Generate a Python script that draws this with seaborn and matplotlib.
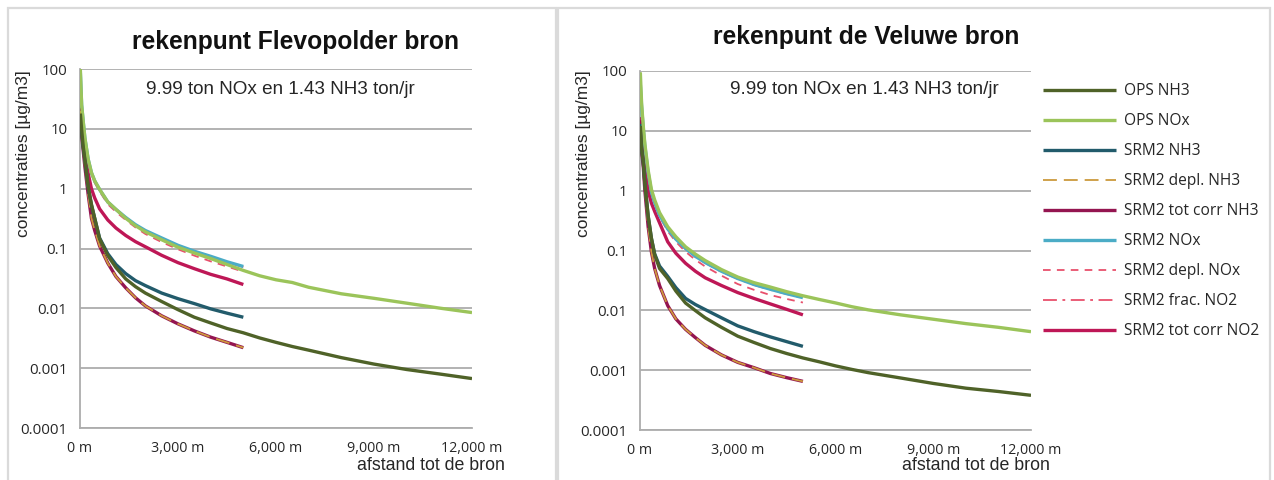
import matplotlib
matplotlib.use("Agg")
import matplotlib.pyplot as plt
import seaborn as sns
from matplotlib.patches import Rectangle
from matplotlib.ticker import FixedLocator, MultipleLocator, NullLocator, FixedFormatter

sns.set_theme(style="white")
plt.rcParams["font.family"] = ["Liberation Sans", "DejaVu Sans"]
plt.rcParams["lines.scale_dashes"] = False
plt.rcParams["lines.solid_capstyle"] = "butt"

# ---------------------------------------------------------------- data
# distance from the source [m]
dist_srm2 = [10, 50, 100, 150, 250, 350, 450, 600, 850, 1100, 1400, 1700,
             2000, 2500, 3000, 3500, 4000, 4500, 5000]
dist_ops = dist_srm2 + [5500, 6000, 6500, 7000, 8000, 9000, 10000, 11000, 12000]

series_names = ["OPS NH3", "OPS NOx", "SRM2 NH3", "SRM2 depl. NH3",
                "SRM2 tot corr NH3", "SRM2 NOx", "SRM2 depl. NOx",
                "SRM2 frac. NO2", "SRM2 tot corr NO2"]

panel_titles = ["rekenpunt Flevopolder bron", "rekenpunt de Veluwe bron"]
emission_note = "9.99 ton NOx en 1.43 NH3 ton/jr"
y_label = "concentraties [µg/m3]"
x_label = "afstand tot de bron"
y_ticks = [0.0001, 0.001, 0.01, 0.1, 1, 10, 100]
y_tick_labels = ["0.0001", "0.001", "0.01", "0.1", "1", "10", "100"]
x_ticks = [0, 3000, 6000, 9000, 12000]
x_tick_labels = ["0 m", "3,000 m", "6,000 m", "9,000 m", "12,000 m"]

# Flevopolder source, concentrations [µg/m3]
flevo_ops_nh3 = [18, 9.7, 5.0, 3.1, 1.1, 0.55, 0.32, 0.145, 0.076, 0.048, 0.031,
                 0.023, 0.018, 0.013, 0.0095, 0.0071, 0.0057, 0.0046, 0.0039,
                 0.0032, 0.0027, 0.0023, 0.0020, 0.0015, 0.00117, 0.00095,
                 0.0008, 0.00067]
flevo_ops_nox = [100, 25, 13, 7.0, 3.1, 1.85, 1.35, 0.97, 0.6, 0.45, 0.32, 0.24,
                 0.19, 0.14, 0.105, 0.084, 0.068, 0.054, 0.043, 0.035, 0.030,
                 0.027, 0.0225, 0.0175, 0.0147, 0.0122, 0.0101, 0.0085]
flevo_srm2_nh3 = [15, 9.0, 4.8, 3.0, 1.05, 0.53, 0.32, 0.15, 0.082, 0.054, 0.038,
                  0.029, 0.024, 0.018, 0.0145, 0.012, 0.0098, 0.0083, 0.0071]
flevo_srm2_depl_nh3 = [20, 8.0, 4.2, 2.3, 0.8, 0.32, 0.2, 0.11, 0.057, 0.034,
                       0.022, 0.015, 0.011, 0.0075, 0.0055, 0.0042, 0.0033,
                       0.0027, 0.0022]
flevo_srm2_tot_nh3 = [22, 8.0, 4.2, 2.3, 0.8, 0.32, 0.2, 0.11, 0.057, 0.034,
                      0.022, 0.015, 0.011, 0.0075, 0.0055, 0.0042, 0.0033,
                      0.0027, 0.0022]
flevo_srm2_nox = [90, 25, 13, 7.0, 3.1, 1.85, 1.35, 0.97, 0.6, 0.45, 0.33, 0.25,
                  0.2, 0.15, 0.113, 0.09, 0.074, 0.06, 0.05]
flevo_srm2_depl_nox = [90, 24, 12.5, 6.8, 3.0, 1.75, 1.25, 0.9, 0.55, 0.41, 0.3,
                       0.225, 0.175, 0.128, 0.097, 0.076, 0.061, 0.05, 0.041]
flevo_srm2_frac_no2 = [88, 24, 12.5, 6.9, 3.05, 1.8, 1.3, 0.95, 0.59, 0.44, 0.325,
                       0.245, 0.195, 0.147, 0.11, 0.088, 0.072, 0.059, 0.049]
flevo_srm2_tot_no2 = [27, 12, 6.5, 4.0, 1.8, 1.0, 0.7, 0.46, 0.3, 0.22, 0.165,
                      0.13, 0.107, 0.077, 0.058, 0.046, 0.037, 0.031, 0.025]

# Veluwe source, concentrations [µg/m3]
vel_ops_nh3 = [12, 5.0, 3.0, 1.3, 0.38, 0.16, 0.085, 0.05, 0.034, 0.021, 0.0132,
               0.0099, 0.0075, 0.0052, 0.0037, 0.0029, 0.0023, 0.0019, 0.0016,
               0.00138, 0.00118, 0.00103, 0.00091, 0.00074, 0.0006, 0.0005,
               0.00044, 0.00038]
vel_ops_nox = [95, 28, 12, 6.0, 2.2, 1.05, 0.7, 0.43, 0.25, 0.17, 0.115, 0.087,
               0.068, 0.048, 0.036, 0.029, 0.0245, 0.0205, 0.0175, 0.0152,
               0.0133, 0.0115, 0.0102, 0.0084, 0.0071, 0.0060, 0.0052, 0.0044]
vel_srm2_nh3 = [13, 5.0, 3.0, 1.3, 0.38, 0.16, 0.088, 0.055, 0.037, 0.024,
                0.0158, 0.0125, 0.0103, 0.0075, 0.0055, 0.0044, 0.0036, 0.0030,
                0.0025]
vel_srm2_depl_nh3 = [13, 4.5, 2.5, 1.0, 0.25, 0.095, 0.05, 0.026, 0.012, 0.0072,
                     0.0048, 0.0035, 0.0026, 0.0018, 0.00135, 0.0011, 0.00088,
                     0.00075, 0.00065]
vel_srm2_tot_nh3 = [15, 4.5, 2.5, 1.0, 0.25, 0.095, 0.05, 0.026, 0.012, 0.0072,
                    0.0048, 0.0035, 0.0026, 0.0018, 0.00135, 0.0011, 0.00088,
                    0.00075, 0.00065]
vel_srm2_nox = [60, 25, 11, 5.5, 2.0, 0.95, 0.63, 0.39, 0.23, 0.155, 0.108, 0.08,
                0.063, 0.045, 0.034, 0.027, 0.0225, 0.019, 0.0163]
vel_srm2_depl_nox = [60, 24, 10.5, 5.3, 1.9, 0.9, 0.6, 0.37, 0.21, 0.14, 0.095,
                     0.07, 0.054, 0.038, 0.0275, 0.022, 0.018, 0.0155, 0.0135]
vel_srm2_frac_no2 = [58, 24, 10.8, 5.4, 1.95, 0.93, 0.62, 0.38, 0.225, 0.152,
                     0.105, 0.078, 0.062, 0.044, 0.0335, 0.0265, 0.022, 0.0187,
                     0.016]
vel_srm2_tot_no2 = [17, 8.0, 4.0, 2.3, 1.0, 0.62, 0.45, 0.29, 0.14, 0.09, 0.061,
                    0.045, 0.035, 0.026, 0.0198, 0.0158, 0.0128, 0.0104, 0.0084]

# ---------------------------------------------------------------- styling
line_styles = [
    # colour, width, linestyle
    ("#4F6228", 2.4, "-"),
    ("#9BC45A", 2.4, "-"),
    ("#225B6B", 2.4, "-"),
    ("#CC9A3D", 1.3, (0, (10, 5))),
    ("#941550", 2.4, "-"),
    ("#4BACC6", 2.4, "-"),
    ("#E8506C", 1.3, (0, (5.5, 4.5))),
    ("#E8506C", 1.3, (0, (10, 4, 2, 4))),
    ("#BE1756", 2.4, "-"),
]

W, H = 1274, 480
GRID = "#ADADAD"
TXT = "#262626"

fig = plt.figure(figsize=(W / 100, H / 100), dpi=100)
fig.patch.set_facecolor("white")


def add_axes_px(left, right, top, bottom):
    return fig.add_axes([left / W, 1 - bottom / H, (right - left) / W, (bottom - top) / H])


def frame_px(left, right, top):
    fig.add_artist(Rectangle((left / W, -0.05), (right - left) / W, 1.05 - top / H,
                             transform=fig.transFigure, fill=False,
                             edgecolor="#DADADA", linewidth=1.6))


panels = [
    dict(box=(80, 472, 69, 428), frame=(8, 555.5), title_xy=(295, 42), note_xy=(280, 89),
         xlab_xy=(505, 466), ylab_x=31,
         data=[flevo_ops_nh3, flevo_ops_nox, flevo_srm2_nh3, flevo_srm2_depl_nh3,
               flevo_srm2_tot_nh3, flevo_srm2_nox, flevo_srm2_depl_nox,
               flevo_srm2_frac_no2, flevo_srm2_tot_no2]),
    dict(box=(640, 1031, 71, 430), frame=(558, 1270), title_xy=(866, 37), note_xy=(864, 89),
         xlab_xy=(1050, 466), ylab_x=591,
         data=[vel_ops_nh3, vel_ops_nox, vel_srm2_nh3, vel_srm2_depl_nh3,
               vel_srm2_tot_nh3, vel_srm2_nox, vel_srm2_depl_nox,
               vel_srm2_frac_no2, vel_srm2_tot_no2]),
]

handles = labels = None
for p, title in zip(panels, panel_titles):
    frame_px(*p["frame"], 8)
    ax = add_axes_px(*p["box"])
    ax.set_facecolor("none")
    for i, (name, vals, (col, lw, ls)) in enumerate(zip(series_names, p["data"], line_styles)):
        xs = dist_ops if len(vals) == len(dist_ops) else dist_srm2
        sns.lineplot(x=xs, y=vals, ax=ax, color=col, linewidth=lw, linestyle=ls,
                     label=name, zorder=20 - i, errorbar=None)
    handles, labels = ax.get_legend_handles_labels()
    if ax.get_legend() is not None:
        ax.get_legend().remove()

    ax.set_yscale("log")
    ax.set_ylim(1e-4, 100)
    ax.set_xlim(0, 12000)
    ax.yaxis.set_major_locator(FixedLocator(y_ticks))
    ax.yaxis.set_major_formatter(FixedFormatter(y_tick_labels))
    ax.yaxis.set_minor_locator(NullLocator())
    ax.xaxis.set_major_locator(FixedLocator(x_ticks))
    ax.xaxis.set_major_formatter(FixedFormatter(x_tick_labels))
    ax.xaxis.set_minor_locator(MultipleLocator(600))

    ax.yaxis.grid(True, which="major", color=GRID, linewidth=1.3)
    ax.xaxis.grid(False)
    for s in ("top", "right"):
        ax.spines[s].set_visible(False)
    for s in ("left", "bottom"):
        ax.spines[s].set_color(GRID)
        ax.spines[s].set_linewidth(1.3)
        ax.spines[s].set_zorder(1)

    ax.tick_params(axis="x", which="major", direction="inout", length=10, width=1.1,
                   color=GRID, pad=4.5, labelsize=10.3, labelcolor=TXT)
    ax.tick_params(axis="x", which="minor", direction="out", length=4, width=1.1,
                   color=GRID)
    ax.tick_params(axis="y", which="major", direction="out", length=4, width=1.1,
                   color=GRID, pad=5, labelsize=10.8, labelcolor=TXT)
    for lab in ax.get_xticklabels() + ax.get_yticklabels():
        lab.set_family(["Open Sans", "DejaVu Sans"])

    ax.set_xlabel("")
    ax.set_ylabel(y_label, fontsize=12.5, color=TXT)
    left, right, top, bottom = p["box"]
    ax.yaxis.set_label_coords((p["ylab_x"] - left) / (right - left),
                              (bottom - 154) / (bottom - top))

    fig.text(p["title_xy"][0] / W, 1 - p["title_xy"][1] / H, title, ha="center",
             va="center", fontsize=17.7, fontweight="bold", color="#111111")
    fig.text(p["note_xy"][0] / W, 1 - p["note_xy"][1] / H, emission_note, ha="center",
             va="center", fontsize=13.6, color=TXT)
    fig.text(p["xlab_xy"][0] / W, 1 - p["xlab_xy"][1] / H, x_label, ha="right",
             va="center", fontsize=12.8, color=TXT)

leg = fig.legend(handles, labels, loc="upper left", bbox_to_anchor=(1043 / W, 1 - 83 / H),
                 frameon=False, borderpad=0, borderaxespad=0, handlelength=4.7,
                 handletextpad=0.5, labelspacing=0.9,
                 prop={"family": ["Open Sans", "DejaVu Sans"], "size": 11.2})
for t in leg.get_texts():
    t.set_color(TXT)

fig.savefig("out.png", dpi=100, facecolor="white")
